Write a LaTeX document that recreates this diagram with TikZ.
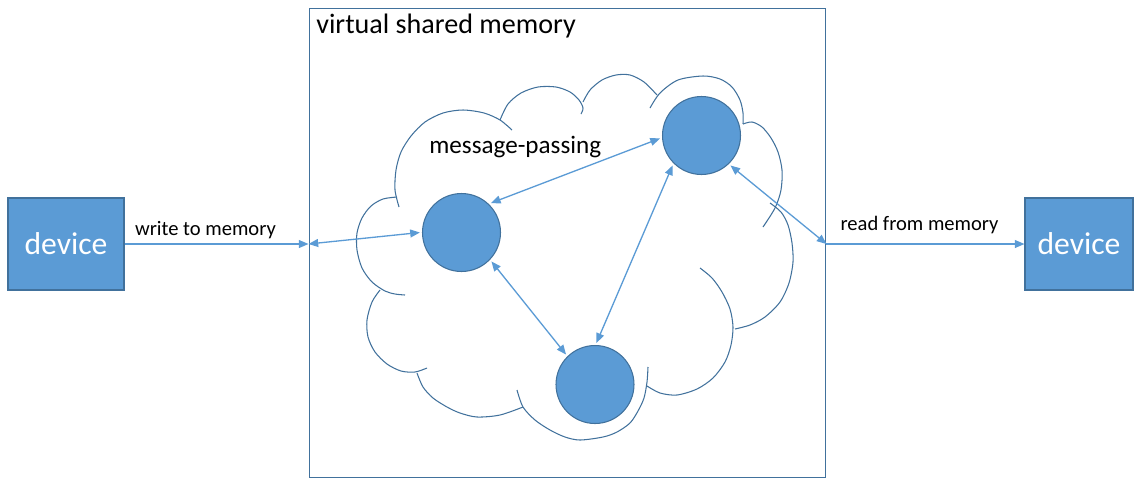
\documentclass[tikz,border=0pt]{standalone}
\usepackage{fontspec}
\setmainfont{Carlito}
\usepackage{tikz}
\usetikzlibrary{arrows.meta}
\definecolor{boxblue}{HTML}{5B9BD5}
\definecolor{edgeblue}{HTML}{41719C}

\begin{document}
\begin{tikzpicture}[x=0.02cm,y=-0.02cm,
	>={Triangle[length=5.5pt,width=4.5pt]},
	device/.style={draw=edgeblue,fill=boxblue,line width=0.6pt,minimum height=1.84cm,text=white,font=\fontsize{18}{21}\selectfont,inner sep=0pt},
	peer/.style={circle,draw=edgeblue,fill=boxblue,line width=0.6pt,minimum size=1.56cm,inner sep=0pt,outer sep=1.5pt},
	link/.style={boxblue,line width=0.75pt},
	puff/.style={edgeblue,line width=0.6pt},
	linktext/.style={text=black,font=\fontsize{11.7}{14}\selectfont,inner sep=2.5pt}]
	\useasboundingbox (0,0) rectangle (1136,481);
	\node[draw=edgeblue,line width=0.6pt,minimum width=10.34cm,minimum height=9.4cm,inner sep=0pt] (vsm) at (567.5,243) {};
	\node[anchor=base west,inner sep=0pt,font=\fontsize{16}{19}\selectfont] (title) at (316,33) {virtual shared memory};
	\draw[puff] plot[smooth] coordinates {(399,207) (395,190) (396,170) (401,152) (411,136) (425,122) (443,113) (463,110) (484,113) (500,120) (512,130)};
	\draw[puff] plot[smooth] coordinates {(500,120) (508,104) (521,93) (538,87) (556,87) (570,92) (579,100) (583,108) (581,114)};
	\draw[puff] plot[smooth] coordinates {(583,102) (590,90) (602,80) (616,75) (630,75) (644,82) (657,95)};
	\draw[puff] plot[smooth] coordinates {(650,108) (660,93) (678,80) (703,76) (720,79) (732,87) (740,100) (743,113) (743,124)};
	\draw[puff] plot[smooth] coordinates {(743,124) (752,122) (762,127) (771,138) (778,152) (782,170) (781,190) (775,208) (763,227)};
	\draw[puff] plot[smooth] coordinates {(770,203) (781,212) (788,225) (792,243) (793,262) (789,283) (780,302) (765,317) (750,325) (735,329)};
	\draw[puff] plot[smooth] coordinates {(700,268) (712,278) (722,292) (730,309) (733,327) (731,345) (725,362) (713,378) (697,389) (677,395) (660,393) (647,386)};
	\draw[puff] plot[smooth] coordinates {(648,367) (647,382) (644,398) (638,411) (630,423) (617,432) (603,437) (580,440) (565,437) (550,430) (535,420) (523,407) (517,390)};
	\draw[puff] plot[smooth] coordinates {(523,407) (500,415) (477,417) (460,413) (447,407) (433,398) (423,387) (417,373)};
	\draw[puff] plot[smooth] coordinates {(380,290) (372,302) (367,320) (368,337) (375,352) (387,364) (401,371) (415,372) (427,368)};
	\draw[puff] plot[smooth] coordinates {(397,197) (383,199) (371,206) (362,218) (357,233) (357,250) (362,268) (372,282) (385,291) (395,294) (405,295)};
	\node[anchor=base west,inner sep=0pt,font=\fontsize{14.3}{17}\selectfont] (mp) at (429,153) {message-passing};
	\node[peer] (p1) at (461.5,232.5) {};
	\node[peer] (p2) at (701.5,135.5) {};
	\node[peer] (p3) at (595,384.5) {};
	\node[device,minimum width=2.32cm] (dev1) at (66,244) {device};
	\node[device,minimum width=2.16cm] (dev2) at (1079,244) {device};
	\draw[link,->] (dev1.east) -- node[linktext,above,pos=0.44] {write to memory} (dev1.east -| vsm.west);
	\draw[link,<->] (dev1.east -| vsm.west) -- (p1.west);
	\draw[link,<->] (p1.45) -- (p2.184);
	\draw[link,<->] (p1.-44) -- (p3.134);
	\draw[link,<->] (p2.-134) -- (p3.88);
	\draw[link,<->] (p2.-46) -- (dev2.west -| vsm.east);
	\draw[link,->] (dev2.west -| vsm.east) -- node[linktext,above,pos=0.47,yshift=2.8pt] {read from memory} (dev2.west);
\end{tikzpicture}
\end{document}
